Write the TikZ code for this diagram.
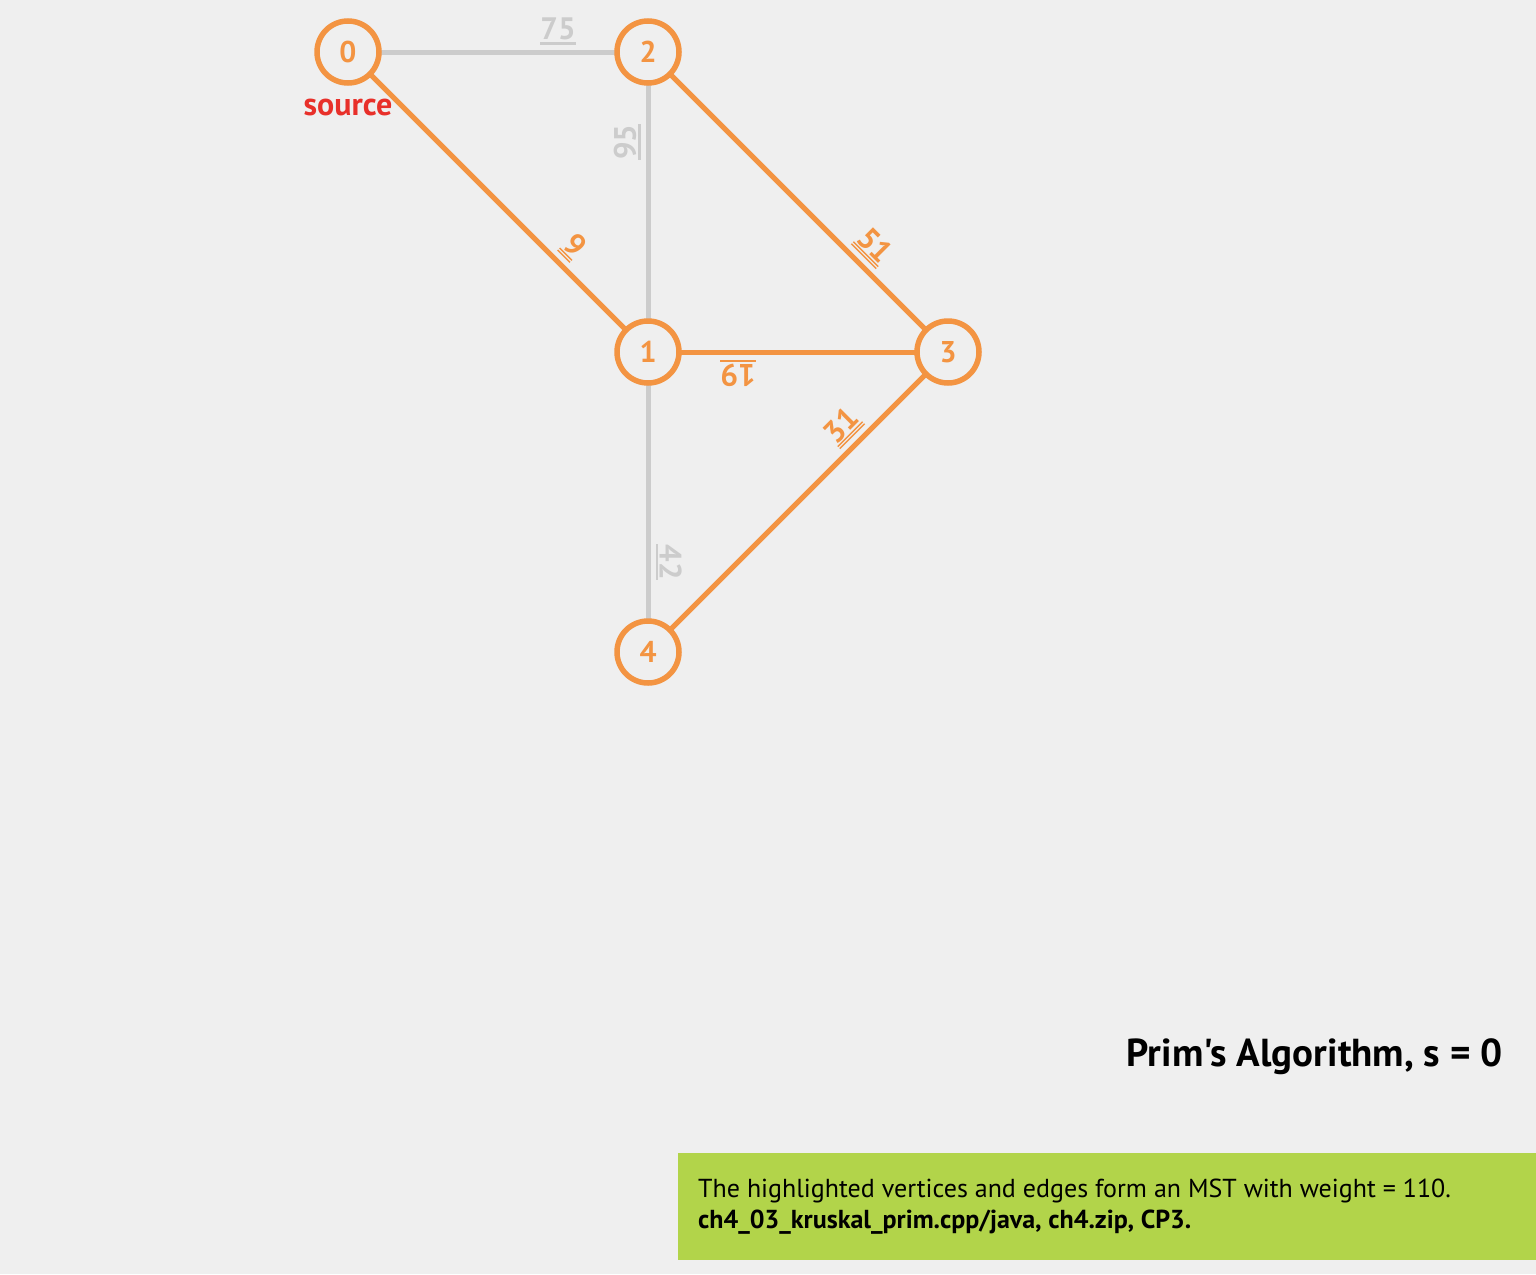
\documentclass[tikz,border=0pt]{standalone}
\usepackage{fontspec}
\setmainfont{PT Sans}[Ligatures=TeXOff]
\definecolor{bgc}{HTML}{EFEFEF}
\definecolor{org}{HTML}{F39442}
\definecolor{gry}{HTML}{CCCCCC}
\definecolor{srcred}{HTML}{E8302A}
\definecolor{grn}{HTML}{B2D44A}
\pgfdeclarelayer{back}
\pgfdeclarelayer{edges}
\pgfsetlayers{back,edges,main}
\newcommand\wone[1]{\vtop{\hbox{#1}\kern2pt\hrule height 2.2pt}}
\newcommand\wtwo[1]{\vtop{\hbox{#1}\kern1.2pt\hrule height 1.4pt\kern1.4pt\hrule height 1.4pt}}
\tikzset{
  vtx/.style={circle, draw=org, line width=5.5pt, fill=bgc, minimum size=62pt, inner sep=0pt, text=org, font=\bfseries\fontsize{30}{30}\selectfont},
  gedge/.style={draw=gry, line width=5pt},
  oedge/.style={draw=org, line width=5pt},
  wlab/.style={pos=0.7, sloped, allow upside down, above=5pt, inner sep=0pt, font=\bfseries\fontsize{31}{31}\selectfont},
}
\begin{document}
\begin{tikzpicture}[x=1pt,y=1pt]
\begin{pgfonlayer}{back}
\fill[bgc] (0,0) rectangle (1536,-1274);
\end{pgfonlayer}
\useasboundingbox (0,0) rectangle (1536,-1274);
\node[vtx] (v0) at (348,-52) {0};
\node[vtx] (v2) at (648,-52) {2};
\node[vtx] (v1) at (648,-352) {1};
\node[vtx] (v3) at (948,-352) {3};
\node[vtx] (v4) at (648,-652) {4};
\node[anchor=base, text=srcred, inner sep=0pt, font=\bfseries\fontsize{32}{32}\selectfont] (src) at (348,-115) {source};
\begin{pgfonlayer}{edges}
\draw[gedge] (v0.center) -- node[wlab, text=gry]{\wone{75}} (v2.center);
\draw[gedge] (v1.center) -- node[wlab, text=gry]{\wone{95}} (v2.center);
\draw[oedge] (v0.center) -- node[wlab, text=org]{\wtwo{9}} (v1.center);
\draw[oedge] (v2.center) -- node[wlab, text=org]{\wtwo{51}} (v3.center);
\draw[oedge] (v3.center) -- node[wlab, text=org]{\wone{19}} (v1.center);
\draw[oedge] (v4.center) -- node[wlab, text=org]{\wtwo{31}} (v3.center);
\draw[gedge] (v1.center) -- node[wlab, text=gry]{\wone{42}} (v4.center);
\end{pgfonlayer}
\node[anchor=base east, inner sep=0pt, font=\bfseries\fontsize{39}{39}\selectfont] (title) at (1503,-1066) {Prim's Algorithm, s = 0};
\node[fill=grn, anchor=north west, minimum width=858pt, minimum height=107pt, inner sep=0pt] (msg) at (678,-1153) {};
\node[anchor=base west, inner sep=0pt, font=\fontsize{26}{26}\selectfont] (l1) at (698,-1197) {The highlighted vertices and edges form an MST with weight = 110.};
\node[anchor=base west, inner sep=0pt, font=\bfseries\fontsize{26}{26}\selectfont] (l2) at (698,-1228) {ch4\_03\_kruskal\_prim.cpp/java, ch4.zip, CP3.};
\end{tikzpicture}
\end{document}
